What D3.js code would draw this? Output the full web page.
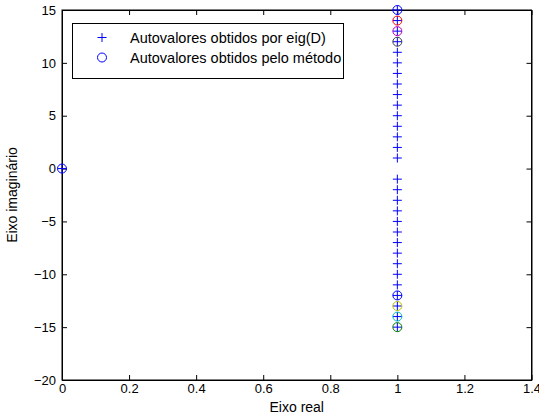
<!DOCTYPE html>
<html><head><meta charset="utf-8">
<script src="https://cdn.jsdelivr.net/npm/d3@7"></script>
<style>body{margin:0;background:#fff}svg{display:block}text{font-family:"Liberation Sans",Arial,sans-serif}</style>
</head><body>
<svg id="c" width="539" height="418"></svg>
<script>
// eigenvalues from eig(D): real parts and imaginary parts
const eigRe = [0, 1,1,1,1,1,1,1,1,1,1,1,1,1,1,1, 1,1,1,1,1,1,1,1,1,1,1,1,1,1,1];
const eigIm = [0, 15,14,13,12,11,10,9,8,7,6,5,4,3,2,1, -1,-2,-3,-4,-5,-6,-7,-8,-9,-10,-11,-12,-13,-14,-15];
// eigenvalues from the method
const metRe = [0, 1, 1, 1, 1, 1, 1, 1, 1];
const metIm = [0, 15, 14, 13, 12, -12, -13, -14, -15];
const metColor = ["#0000ff","#0000ff","#ff0000","#bf00bf","#404040","#0000ff","#bfbf00","#00bfbf","#008000"];
const xTicks = [0,0.2,0.4,0.6,0.8,1,1.2,1.4];
const yTicks = [-20,-15,-10,-5,0,5,10,15];
const legendLabels = ["Autovalores obtidos por eig(D)","Autovalores obtidos pelo método"];

const svg = d3.select("#c");
const L=62, R=531.5, T=10, B=380;
const x = d3.scaleLinear().domain([0,1.4]).range([L,R]);
const y = d3.scaleLinear().domain([-20,15]).range([B,T]);
const fmt = v => (v<0?"\u2212":"") + Math.abs(v);
const FS = 13;

const g = svg.append("g");
g.append("rect").attr("x",L).attr("y",T).attr("width",R-L).attr("height",B-T)
 .attr("fill","none").attr("stroke","#000").attr("stroke-width",1);

const axB = d3.axisBottom(x).tickValues(xTicks).tickSizeInner(-5).tickSizeOuter(0).tickPadding(4).tickFormat(d=>String(d));
const axT = d3.axisTop(x).tickValues(xTicks).tickSizeInner(-5).tickSizeOuter(0).tickFormat("");
const axL = d3.axisLeft(y).tickValues(yTicks).tickSizeInner(-5).tickSizeOuter(0).tickPadding(6).tickFormat(fmt);
const axR = d3.axisRight(y).tickValues(yTicks).tickSizeInner(-5).tickSizeOuter(0).tickFormat("");
function style(sel){ sel.select(".domain").attr("stroke","#000");
  sel.selectAll("line").attr("stroke","#000");
  sel.selectAll("text").attr("font-size",FS).attr("fill","#000").style("font-family","'Liberation Sans',Arial,sans-serif"); }
g.append("g").attr("transform",`translate(0,${B})`).call(axB).call(style);
g.append("g").attr("transform",`translate(0,${T})`).call(axT).call(style);
g.append("g").attr("transform",`translate(${L},0)`).call(axL).call(style);
g.append("g").attr("transform",`translate(${R},0)`).call(axR).call(style);

// axis labels
svg.append("text").attr("x",(L+R)/2).attr("y",412).attr("text-anchor","middle").attr("font-size",14).text("Eixo real");
svg.append("text").attr("transform",`translate(17,${(T+B)/2}) rotate(-90)`).attr("text-anchor","middle").attr("font-size",14).text("Eixo imaginário");

const plus = (sel, cx, cy, s, col) => sel.append("path")
  .attr("d",`M${cx-s},${cy}H${cx+s}M${cx},${cy-s}V${cy+s}`).attr("stroke",col).attr("stroke-width",1).attr("fill","none");
const pg = svg.append("g");
eigRe.forEach((re,i)=>plus(pg, x(re), y(eigIm[i]), 4.5, "#0000ff"));
const cg = svg.append("g");
metRe.forEach((re,i)=>cg.append("circle").attr("cx",x(re)).attr("cy",y(metIm[i])).attr("r",4.5)
  .attr("fill","none").attr("stroke",metColor[i]).attr("stroke-width",1));

// legend
const lg = svg.append("g");
lg.append("rect").attr("x",72.5).attr("y",23.5).attr("width",271).attr("height",55).attr("fill","#fff").attr("stroke","#000").attr("stroke-width",1);
plus(lg, 102, 37.5, 4.5, "#0000ff");
lg.append("circle").attr("cx",102).attr("cy",57.5).attr("r",4.5).attr("fill","none").attr("stroke","#0000ff");
legendLabels.forEach((t,i)=>lg.append("text").attr("x",130).attr("y",38+i*20).attr("dy","0.35em").attr("font-size",14.5).text(t));
</script>
</body></html>
